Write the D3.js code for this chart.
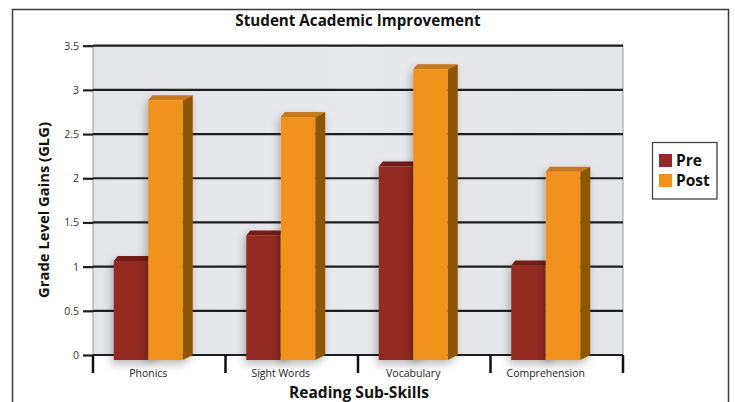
<!DOCTYPE html>
<html><head><meta charset="utf-8">
<script src="https://cdn.jsdelivr.net/npm/d3@7"></script>
<style>
html,body{margin:0;padding:0;background:#fff;}
svg{display:block;font-family:"Open Sans","Noto Sans",sans-serif;}
</style></head>
<body><svg id="c" width="735" height="402"></svg>
<script>
const categories = ["Phonics", "Sight Words", "Vocabulary", "Comprehension"];
const seriesNames = ["Pre", "Post"];
const preValues = [1.12, 1.41, 2.19, 1.07];
const postValues = [2.94, 2.75, 3.29, 2.13];
const yTicks = [0, 0.5, 1, 1.5, 2, 2.5, 3, 3.5];
const title = "Student Academic Improvement";
const xTitle = "Reading Sub-Skills";
const yTitle = "Grade Level Gains (GLG)";

const colors = {
  Pre: {front: "#922924", top: "#741d19", side: "#6a1a16"},
  Post: {front: "#f1921f", top: "#c7771a", side: "#8f5600"}
};

const svg = d3.select("#c");
const defs = svg.append("defs");
const f = defs.append("filter").attr("id","sh").attr("x","-50%").attr("y","-20%").attr("width","200%").attr("height","140%");
f.append("feDropShadow").attr("dx",-2).attr("dy",4).attr("stdDeviation",4).attr("flood-color","#000").attr("flood-opacity",0.28);
const gr = defs.append("linearGradient").attr("id","bg").attr("x1",0).attr("y1",0).attr("x2",1).attr("y2",0);
gr.append("stop").attr("offset","0%").attr("stop-color","#e3e5e8");
gr.append("stop").attr("offset","50%").attr("stop-color","#e7e9ec");
gr.append("stop").attr("offset","100%").attr("stop-color","#e3e5e8");

// outer frame
svg.append("path").attr("d","M12.5,410 V9.5 H728.5 V410").attr("fill","none").attr("stroke","#3a3a3a").attr("stroke-width",1.5);

const plotL = 93, plotR = 623, plotT = 45.7, plotB = 355;
const y = d3.scaleLinear().domain([0,3.5]).range([plotB, plotT]);
const x = d3.scaleBand().domain(categories).range([plotL, plotR]);
const barW = 34.5;
const xs = d3.scaleBand().domain(seriesNames).range([0, barW*2]);
const depthX = 10, depthY = 5;

// panel
svg.append("rect").attr("x",plotL).attr("y",plotT).attr("width",plotR-plotL).attr("height",plotB-plotT)
  .attr("fill","url(#bg)").attr("stroke","#9a9a9a").attr("stroke-width",1);

// gridlines
svg.append("g").selectAll("line").data(yTicks).join("line")
  .attr("x1",plotL).attr("x2",plotR).attr("y1",d=>y(d)).attr("y2",d=>y(d))
  .attr("stroke","#1e1e1e").attr("stroke-width",2.2);

// y axis
const ya = svg.append("g").attr("transform",`translate(${plotL},0)`)
  .call(d3.axisLeft(y).tickValues(yTicks).tickSize(10).tickPadding(4).tickFormat(d=>String(d)));
ya.select(".domain").remove();
ya.selectAll(".tick line").attr("stroke","#1e1e1e").attr("stroke-width",2.2);
ya.selectAll(".tick text").attr("fill","#333").style("font-size","10.5px").style("font-family","'Open Sans',sans-serif");

// x axis ticks (category boundaries)
const bounds = categories.map(c=>x(c)).concat([plotR]);
svg.append("g").selectAll("line").data(bounds).join("line")
  .attr("x1",d=>d).attr("x2",d=>d).attr("y1",plotB).attr("y2",373)
  .attr("stroke","#111").attr("stroke-width",2.5);

// bars
const data = [];
categories.forEach((c,i)=>{
  data.push({cat:c, s:"Pre", v:preValues[i]});
  data.push({cat:c, s:"Post", v:postValues[i]});
});
const shift = -11;
const bars = svg.append("g");
data.forEach(d=>{
  const x0 = x(d.cat) + x.bandwidth()/2 + shift - barW + xs(d.s);
  const x1 = x0 + xs.bandwidth();
  const yTop = y(d.v) + depthY;
  const yBot = y(0) + depthY;
  const c = colors[d.s];
  const g = bars.append("g").attr("filter","url(#sh)");
  g.append("path").attr("d",`M${x1},${yTop} L${x1+depthX},${yTop-depthY} L${x1+depthX},${yBot-depthY} L${x1},${yBot} Z`).attr("fill",c.side);
  g.append("path").attr("d",`M${x0},${yTop} L${x0+depthX*0.4},${yTop-depthY} L${x1+depthX},${yTop-depthY} L${x1},${yTop} Z`).attr("fill",c.top);
  g.append("rect").attr("x",x0).attr("y",yTop).attr("width",x1-x0).attr("height",yBot-yTop).attr("fill",c.front);
});

// x labels
svg.append("g").selectAll("text").data(categories).join("text")
  .attr("x",c=>x(c)+x.bandwidth()/2+shift).attr("y",377)
  .attr("text-anchor","middle").attr("fill","#222").style("font-size","10.5px").text(c=>c);

// titles
svg.append("text").attr("x",358).attr("y",26).attr("text-anchor","middle")
  .style("font-size","15.2px").style("font-weight","bold").attr("fill","#111").text(title);
svg.append("text").attr("x",359).attr("y",398).attr("text-anchor","middle")
  .style("font-size","15.5px").style("font-weight","bold").attr("fill","#111").text(xTitle);
svg.append("text").attr("transform","translate(49,210) rotate(-90)").attr("text-anchor","middle")
  .style("font-size","14.8px").style("font-weight","bold").attr("fill","#111").text(yTitle);

// legend
const lg = svg.append("g");
lg.append("rect").attr("x",652.5).attr("y",142.5).attr("width",64.5).attr("height",56.5)
  .attr("fill","#fff").attr("stroke","#444").attr("stroke-width",1.3);
seriesNames.forEach((s,i)=>{
  lg.append("rect").attr("x",659).attr("y",154+i*20).attr("width",13).attr("height",13).attr("fill",colors[s].front);
  lg.append("text").attr("x",676).attr("y",166+i*20).style("font-size","15.5px").style("font-weight","bold")
    .attr("fill","#111").text(s);
});
</script></body></html>
